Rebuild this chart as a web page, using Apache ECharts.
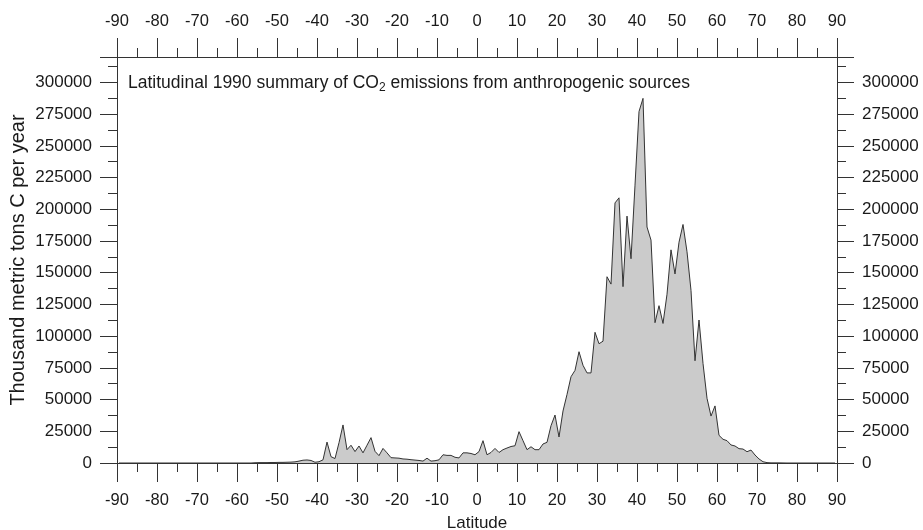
<!DOCTYPE html>
<html>
<head>
<meta charset="utf-8">
<script src="https://cdn.jsdelivr.net/npm/echarts@6/dist/echarts.min.js"></script>
<style>
html,body{margin:0;padding:0;background:#fff;}
#chart{width:923px;height:530px;}
</style>
</head>
<body>
<div id="chart"></div>
<script>
// Latitude cell centres (degrees)
const latitudes = [
-89.5,-88.5,-87.5,-86.5,-85.5,-84.5,-83.5,-82.5,-81.5,-80.5,
-79.5,-78.5,-77.5,-76.5,-75.5,-74.5,-73.5,-72.5,-71.5,-70.5,
-69.5,-68.5,-67.5,-66.5,-65.5,-64.5,-63.5,-62.5,-61.5,-60.5,
-59.5,-58.5,-57.5,-56.5,-55.5,-54.5,-53.5,-52.5,-51.5,-50.5,
-49.5,-48.5,-47.5,-46.5,-45.5,-44.5,-43.5,-42.5,-41.5,-40.5,
-39.5,-38.5,-37.5,-36.5,-35.5,-34.5,-33.5,-32.5,-31.5,-30.5,
-29.5,-28.5,-27.5,-26.5,-25.5,-24.5,-23.5,-22.5,-21.5,-20.5,
-19.5,-18.5,-17.5,-16.5,-15.5,-14.5,-13.5,-12.5,-11.5,-10.5,
-9.5,-8.5,-7.5,-6.5,-5.5,-4.5,-3.5,-2.5,-1.5,-0.5,
0.5,1.5,2.5,3.5,4.5,5.5,6.5,7.5,8.5,9.5,
10.5,11.5,12.5,13.5,14.5,15.5,16.5,17.5,18.5,19.5,
20.5,21.5,22.5,23.5,24.5,25.5,26.5,27.5,28.5,29.5,
30.5,31.5,32.5,33.5,34.5,35.5,36.5,37.5,38.5,39.5,
40.5,41.5,42.5,43.5,44.5,45.5,46.5,47.5,48.5,49.5,
50.5,51.5,52.5,53.5,54.5,55.5,56.5,57.5,58.5,59.5,
60.5,61.5,62.5,63.5,64.5,65.5,66.5,67.5,68.5,69.5,
70.5,71.5,72.5,73.5,74.5,75.5,76.5,77.5,78.5,79.5,
80.5,81.5,82.5,83.5,84.5,85.5,86.5,87.5,88.5,89.5
];
// Thousand metric tons C per year
const emissions = [
0,0,0,0,0,0,0,0,0,0,
0,0,0,0,0,0,0,0,0,0,
0,0,0,0,0,0,0,0,0,0,
0,0,0,0,200,300,300,300,400,400,
500,500,600,700,900,1500,2200,2400,2000,600,
1000,2500,16500,5000,3500,16000,30000,10500,14000,9000,
13400,8000,14000,20000,9200,5800,11500,8000,4200,4000,
3800,3200,3000,2600,2300,2000,1500,3800,1500,1800,
2500,6500,6000,6000,4500,4000,8000,8000,7500,6500,
9000,17600,6500,8300,11500,8300,10500,11800,13000,13600,
24700,17600,10500,12800,10500,10500,15000,16300,29400,37800,
20500,41000,54000,68000,73000,87700,77000,71000,71000,103000,
94000,96000,146800,141000,205000,209000,139000,194600,161000,219000,
277000,287400,186000,175700,110600,124000,110000,133000,168000,149000,
174000,188000,166500,136000,80600,112700,78500,51000,37000,45000,
21800,18700,17600,14200,13400,11300,11000,8900,10200,6300,
3200,1000,300,100,100,100,50,0,0,0,
0,0,0,0,0,0,0,0,0,0
];
const xTickLabels = [-90,-80,-70,-60,-50,-40,-30,-20,-10,0,10,20,30,40,50,60,70,80,90];
const yTickLabels = [0,25000,50000,75000,100000,125000,150000,175000,200000,225000,250000,275000,300000];

const FONT = 'Liberation Sans, Arial, sans-serif';
const AX = '#333';
const TXT = '#1a1a1a';
const chart = echarts.init(document.getElementById('chart'), null, {renderer:'canvas'});

function xAxisCfg(pos, margin){
  return {
    type:'value', position:pos, min:-90, max:90, interval:10,
    axisLine:{show:true, onZero:false, lineStyle:{color:AX, width:1}},
    axisTick:{show:true, inside:false, length:19, lineStyle:{color:AX, width:1}},
    minorTick:{show:true, splitNumber:2, length:9, lineStyle:{color:AX, width:1}},
    splitLine:{show:false},
    axisLabel:{color:TXT, fontSize:16.5, fontFamily:FONT, margin:margin,
      formatter:v => xTickLabels.includes(v) ? String(v) : ''},
  };
}
function yAxisCfg(pos){
  return {
    type:'value', position:pos, min:0, max:320000, interval:25000,
    axisLine:{show:true, onZero:false, lineStyle:{color:AX, width:1}},
    axisTick:{show:true, inside:false, length:17, lineStyle:{color:AX, width:1}},
    minorTick:{show:true, splitNumber:2, length:9, lineStyle:{color:AX, width:1}},
    splitLine:{show:false},
    axisLabel:{color:TXT, fontSize:17, fontFamily:FONT, margin:25,
      showMaxLabel:false,
      formatter:v => yTickLabels.includes(v) ? String(v) : ''},
  };
}

const xb = xAxisCfg('bottom', 29);
xb.name = 'Latitude';
xb.nameLocation = 'middle';
xb.nameGap = 52;
xb.nameTextStyle = {color:TXT, fontSize:17, fontFamily:FONT};
const xt = xAxisCfg('top', 27);
const yl = yAxisCfg('left');
yl.name = 'Thousand metric tons C per year';
yl.nameLocation = 'middle';
yl.nameGap = 89;
yl.nameMoveOverlap = false;
yl.nameTextStyle = {color:TXT, fontSize:20, fontFamily:FONT};
const yr = yAxisCfg('right');

chart.setOption({
  animation:false,
  backgroundColor:'#ffffff',
  textStyle:{fontFamily:FONT},
  title:{
    text:'Latitudinal 1990 summary of CO{sub|2} emissions from anthropogenic sources',
    left:123, top:68,
    textStyle:{color:TXT, fontSize:17.5, fontWeight:'normal', fontFamily:FONT,
      rich:{sub:{fontSize:12, fontFamily:FONT, color:TXT, verticalAlign:'bottom', padding:[9,0,0,0]}}}
  },
  grid:{left:117, right:86, top:57, bottom:67, containLabel:false, outerBoundsMode:'none'},
  xAxis:[xb, xt],
  yAxis:[yl, yr],
  series:[{
    type:'line',
    xAxisIndex:0, yAxisIndex:0,
    data: latitudes.map((lat,i)=>[lat, emissions[i]]),
    showSymbol:false,
    symbol:'none',
    lineStyle:{color:'#333333', width:1},
    areaStyle:{color:'#cbcbcb', opacity:1, origin:'start'},
    z:1
  }]
});
</script>
</body>
</html>
